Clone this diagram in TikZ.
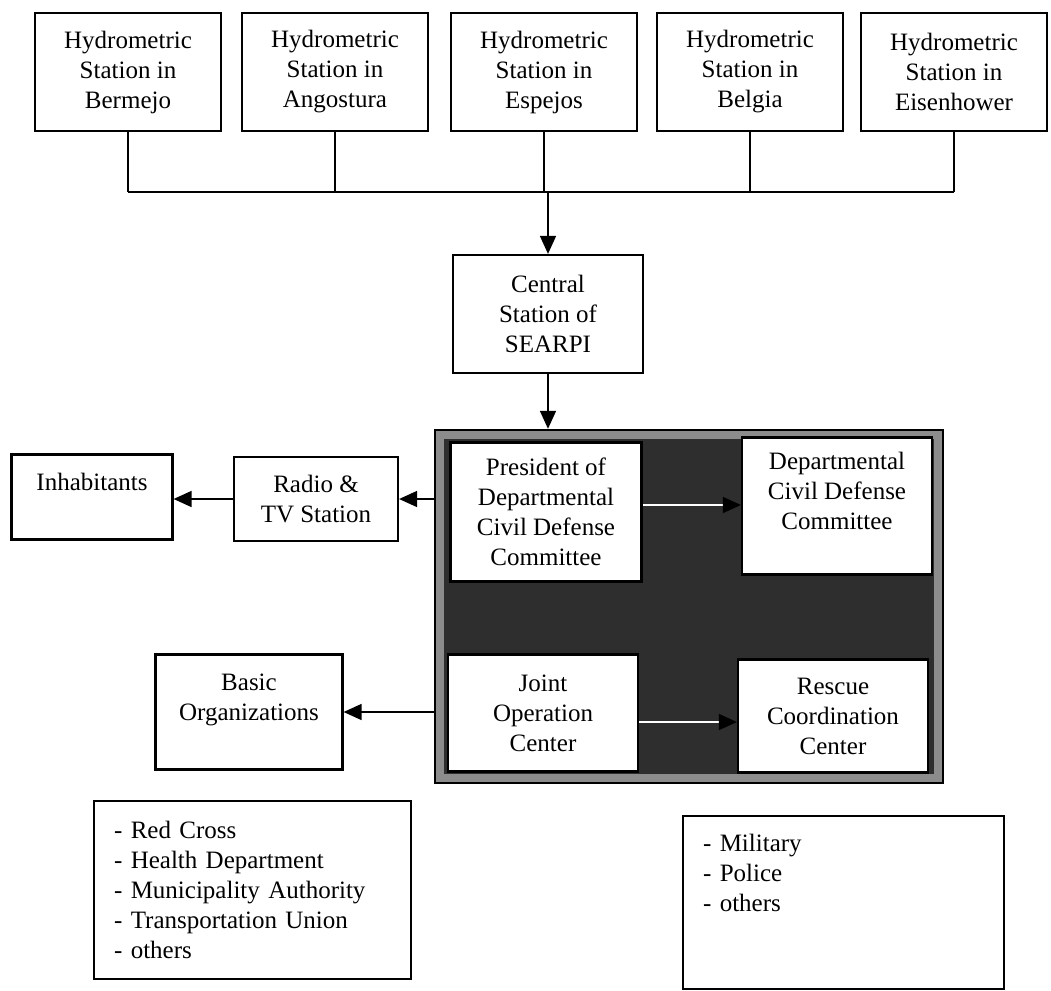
\documentclass[tikz,border=0pt]{standalone}
\usepackage{fontspec}
\setmainfont{Liberation Serif}
\usetikzlibrary{arrows.meta,calc,positioning}
\tikzset{>=latex}
\tikzset{
  box/.style={draw, line width=2.2pt, fill=white, align=center, inner sep=0pt},
  station/.style={box, minimum width=186pt, minimum height=118pt},
  link/.style={line width=1.6pt},
  arr/.style={link, -{Triangle[length=18pt,width=16pt]}},
  inarr/.style={link, draw=white, -{Triangle[length=18pt,width=16pt,color=black]}},
  group/.style={draw, line width=2.4pt, fill=black!45, inner sep=0pt},
  crossfill/.style={fill=black!82},
  listbox/.style={draw, line width=2.2pt, align=left, inner xsep=20pt, inner ysep=12pt, anchor=north west},
}
\begin{document}
\begin{tikzpicture}[x=1pt,y=-1pt,font=\fontsize{25}{30}\selectfont]
  \useasboundingbox (0,0) rectangle (1051,990);

  % hydrometric stations
  \foreach \name/\xc/\place in {berm/128/Bermejo,ango/335/Angostura,espe/544/Espejos,belg/750/Belgia,eisen/954/Eisenhower}
    \node[station] (\name) at (\xc,72) {Hydrometric\\Station in\\\place};
  \coordinate (bus) at (0,192);
  \foreach \name in {berm,ango,espe,belg,eisen}
    \draw[link] (\name.south) -- (\name.south |- bus);
  \draw[link] (berm.south |- bus) -- (eisen.south |- bus);

  \node[box, minimum width=190pt, minimum height=118pt] (searpi) at (548,314) {Central\\Station of\\SEARPI};
  \draw[arr] (searpi.north |- bus) -- (searpi.north);

  % civil defense group
  \node[group, minimum width=508pt, minimum height=353pt] (cdgroup) at (689,606.5) {};
  \fill[crossfill] ([shift={(10,10)}]cdgroup.north west) rectangle ([shift={(-10,-10)}]cdgroup.south east);

  \node[box, minimum width=191pt, minimum height=139pt] (pres) at (546,512) {President of\\Departmental\\Civil Defense\\Committee};
  \node[box, minimum width=190pt, minimum height=137pt] (dcdc) at (837,506) {Departmental\\Civil Defense\\Committee\\~};
  \node[box, minimum width=190pt, minimum height=117pt] (joc) at (543,713) {Joint\\Operation\\Center};
  \node[box, minimum width=190pt, minimum height=113pt] (rcc) at (833,716) {Rescue\\Coordination\\Center};

  \draw[arr] (searpi.south) -- (searpi.south |- cdgroup.north);
  \draw[inarr] ([yshift=7pt]pres.east) -- ([yshift=7pt]pres.east -| dcdc.west);
  \draw[inarr] ([yshift=-9pt]joc.east) -- ([yshift=-9pt]joc.east -| rcc.west);

  % outside the group
  \node[box, minimum width=164pt, minimum height=84pt] (radio) at (316,499) {Radio \&\\TV Station};
  \node[box, minimum width=161pt, minimum height=85pt] (inhab) at (92,497) {Inhabitants\\~};
  \node[box, minimum width=187pt, minimum height=115pt] (basic) at (249,712) {Basic\\Organizations\\~};
  \draw[arr] (cdgroup.west |- radio) -- (radio.east);
  \draw[arr] (radio.west) -- (radio.west -| inhab.east);
  \draw[arr] (cdgroup.west |- basic) -- (basic.east);

  \node[listbox, text width=277pt, minimum height=178pt] (members) at (93,800)
    {- Red Cross\\- Health Department\\- Municipality Authority\\- Transportation Union\\- others};
  \node[listbox, text width=281pt, minimum height=173pt] (forces) at (682,815)
    {- Military\\- Police\\- others\\~\\~};
\end{tikzpicture}
\end{document}
